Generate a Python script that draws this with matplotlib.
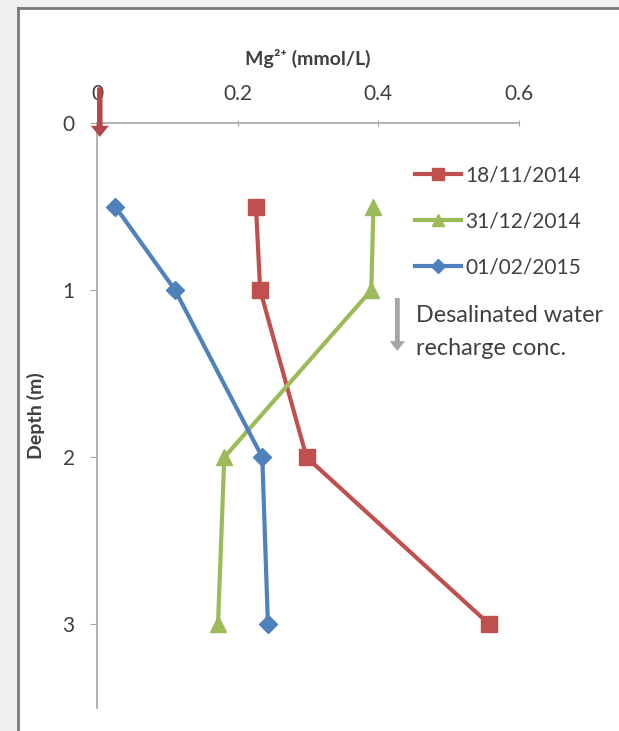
import matplotlib.pyplot as plt
import matplotlib.patches as patches
from matplotlib.lines import Line2D

plt.rcParams['font.family'] = ['Lato', 'DejaVu Sans']

# Data
depth = [0.5, 1, 2, 3]
mg_nov = [0.226, 0.232, 0.298, 0.558]
mg_dec = [0.393, 0.390, 0.181, 0.172]
mg_feb = [0.026, 0.111, 0.235, 0.243]
labels = ['18/11/2014', '31/12/2014', '01/02/2015']
x_ticks = [0, 0.2, 0.4, 0.6]
y_ticks = [0, 1, 2, 3]

red = '#c0504d'
green = '#9bbb59'
blue = '#4f81bd'
axis_gray = '#a6a6a6'
text_color = '#404040'

fig = plt.figure(figsize=(6.19, 7.31), dpi=100)
fig.patch.set_facecolor('#f0f0f0')

# chart area panel with border on left/top
panel = patches.Rectangle((18 / 619, 0), 1 - 18 / 619, 1 - 8 / 731,
                          transform=fig.transFigure, facecolor='white',
                          edgecolor='none', zorder=-2)
fig.patches.append(panel)
fig.add_artist(Line2D([18 / 619, 18 / 619], [0, 1 - 8 / 731],
                      transform=fig.transFigure, color='#7a7a7a', lw=2, zorder=-1))
fig.add_artist(Line2D([18 / 619, 1], [1 - 8 / 731, 1 - 8 / 731],
                      transform=fig.transFigure, color='#7a7a7a', lw=2, zorder=-1))

ax = fig.add_axes([97 / 619, 1 - 708 / 731, 422 / 619, 585 / 731])
ax.set_zorder(2)
ax.set_facecolor('none')
ax.set_xlim(0, 0.6)
ax.set_ylim(3.5, 0)

ax.plot(mg_nov, depth, color=red, lw=3, marker='s', ms=11,
        label=labels[0], zorder=3)
ax.plot(mg_dec, depth, color=green, lw=3, marker='^', ms=12,
        label=labels[1], zorder=3)
ax.plot(mg_feb, depth, color=blue, lw=3, marker='D', ms=9,
        label=labels[2], zorder=3)

# axes styling
ax.xaxis.tick_top()
ax.xaxis.set_label_position('top')
ax.set_xticks(x_ticks)
ax.set_xticklabels(['0', '0.2', '0.4', '0.6'])
ax.set_yticks(y_ticks)
for s in ['right', 'bottom']:
    ax.spines[s].set_visible(False)
for s in ['top', 'left']:
    ax.spines[s].set_color(axis_gray)
    ax.spines[s].set_linewidth(1.2)
ax.tick_params(axis='x', direction='inout', length=5, color=axis_gray,
               labelsize=15, labelcolor=text_color, pad=11)
ax.tick_params(axis='y', direction='out', length=5, color=axis_gray,
               labelsize=15, labelcolor=text_color, pad=11)

ax.set_xlabel('Mg²⁺ (mmol/L)', fontsize=14, fontweight='bold',
              color=text_color, labelpad=14)
ax.set_ylabel('Depth (m)', fontsize=14, fontweight='bold',
              color=text_color, labelpad=13)

# red recharge arrow at x = 0
ax.annotate('', xy=(0.004, 0.10), xytext=(0.004, -0.23),
            arrowprops=dict(arrowstyle='simple,head_width=1.3,head_length=0.8,tail_width=0.4',
                            color='#b5474a', lw=0),
            annotation_clip=False, zorder=4)

# legend
leg = ax.legend(loc='upper left', bbox_to_anchor=(0.71, 0.96),
                frameon=False, fontsize=15, handlelength=2.2,
                labelspacing=1.25, handletextpad=0.2, markerscale=0.75)
for t in leg.get_texts():
    t.set_color(text_color)

# gray arrow and note
ax.annotate('', xy=(0.427, 1.38), xytext=(0.427, 1.03),
            arrowprops=dict(arrowstyle='simple,head_width=1.1,head_length=0.7,tail_width=0.35',
                            color=axis_gray, lw=0),
            annotation_clip=False)
ax.text(0.454, 1.25, 'Desalinated water\nrecharge conc.', fontsize=16.8,
        color=text_color, va='center', ha='left', linespacing=1.75,
        clip_on=False)

fig.savefig('out.png', dpi=100, facecolor=fig.get_facecolor())
